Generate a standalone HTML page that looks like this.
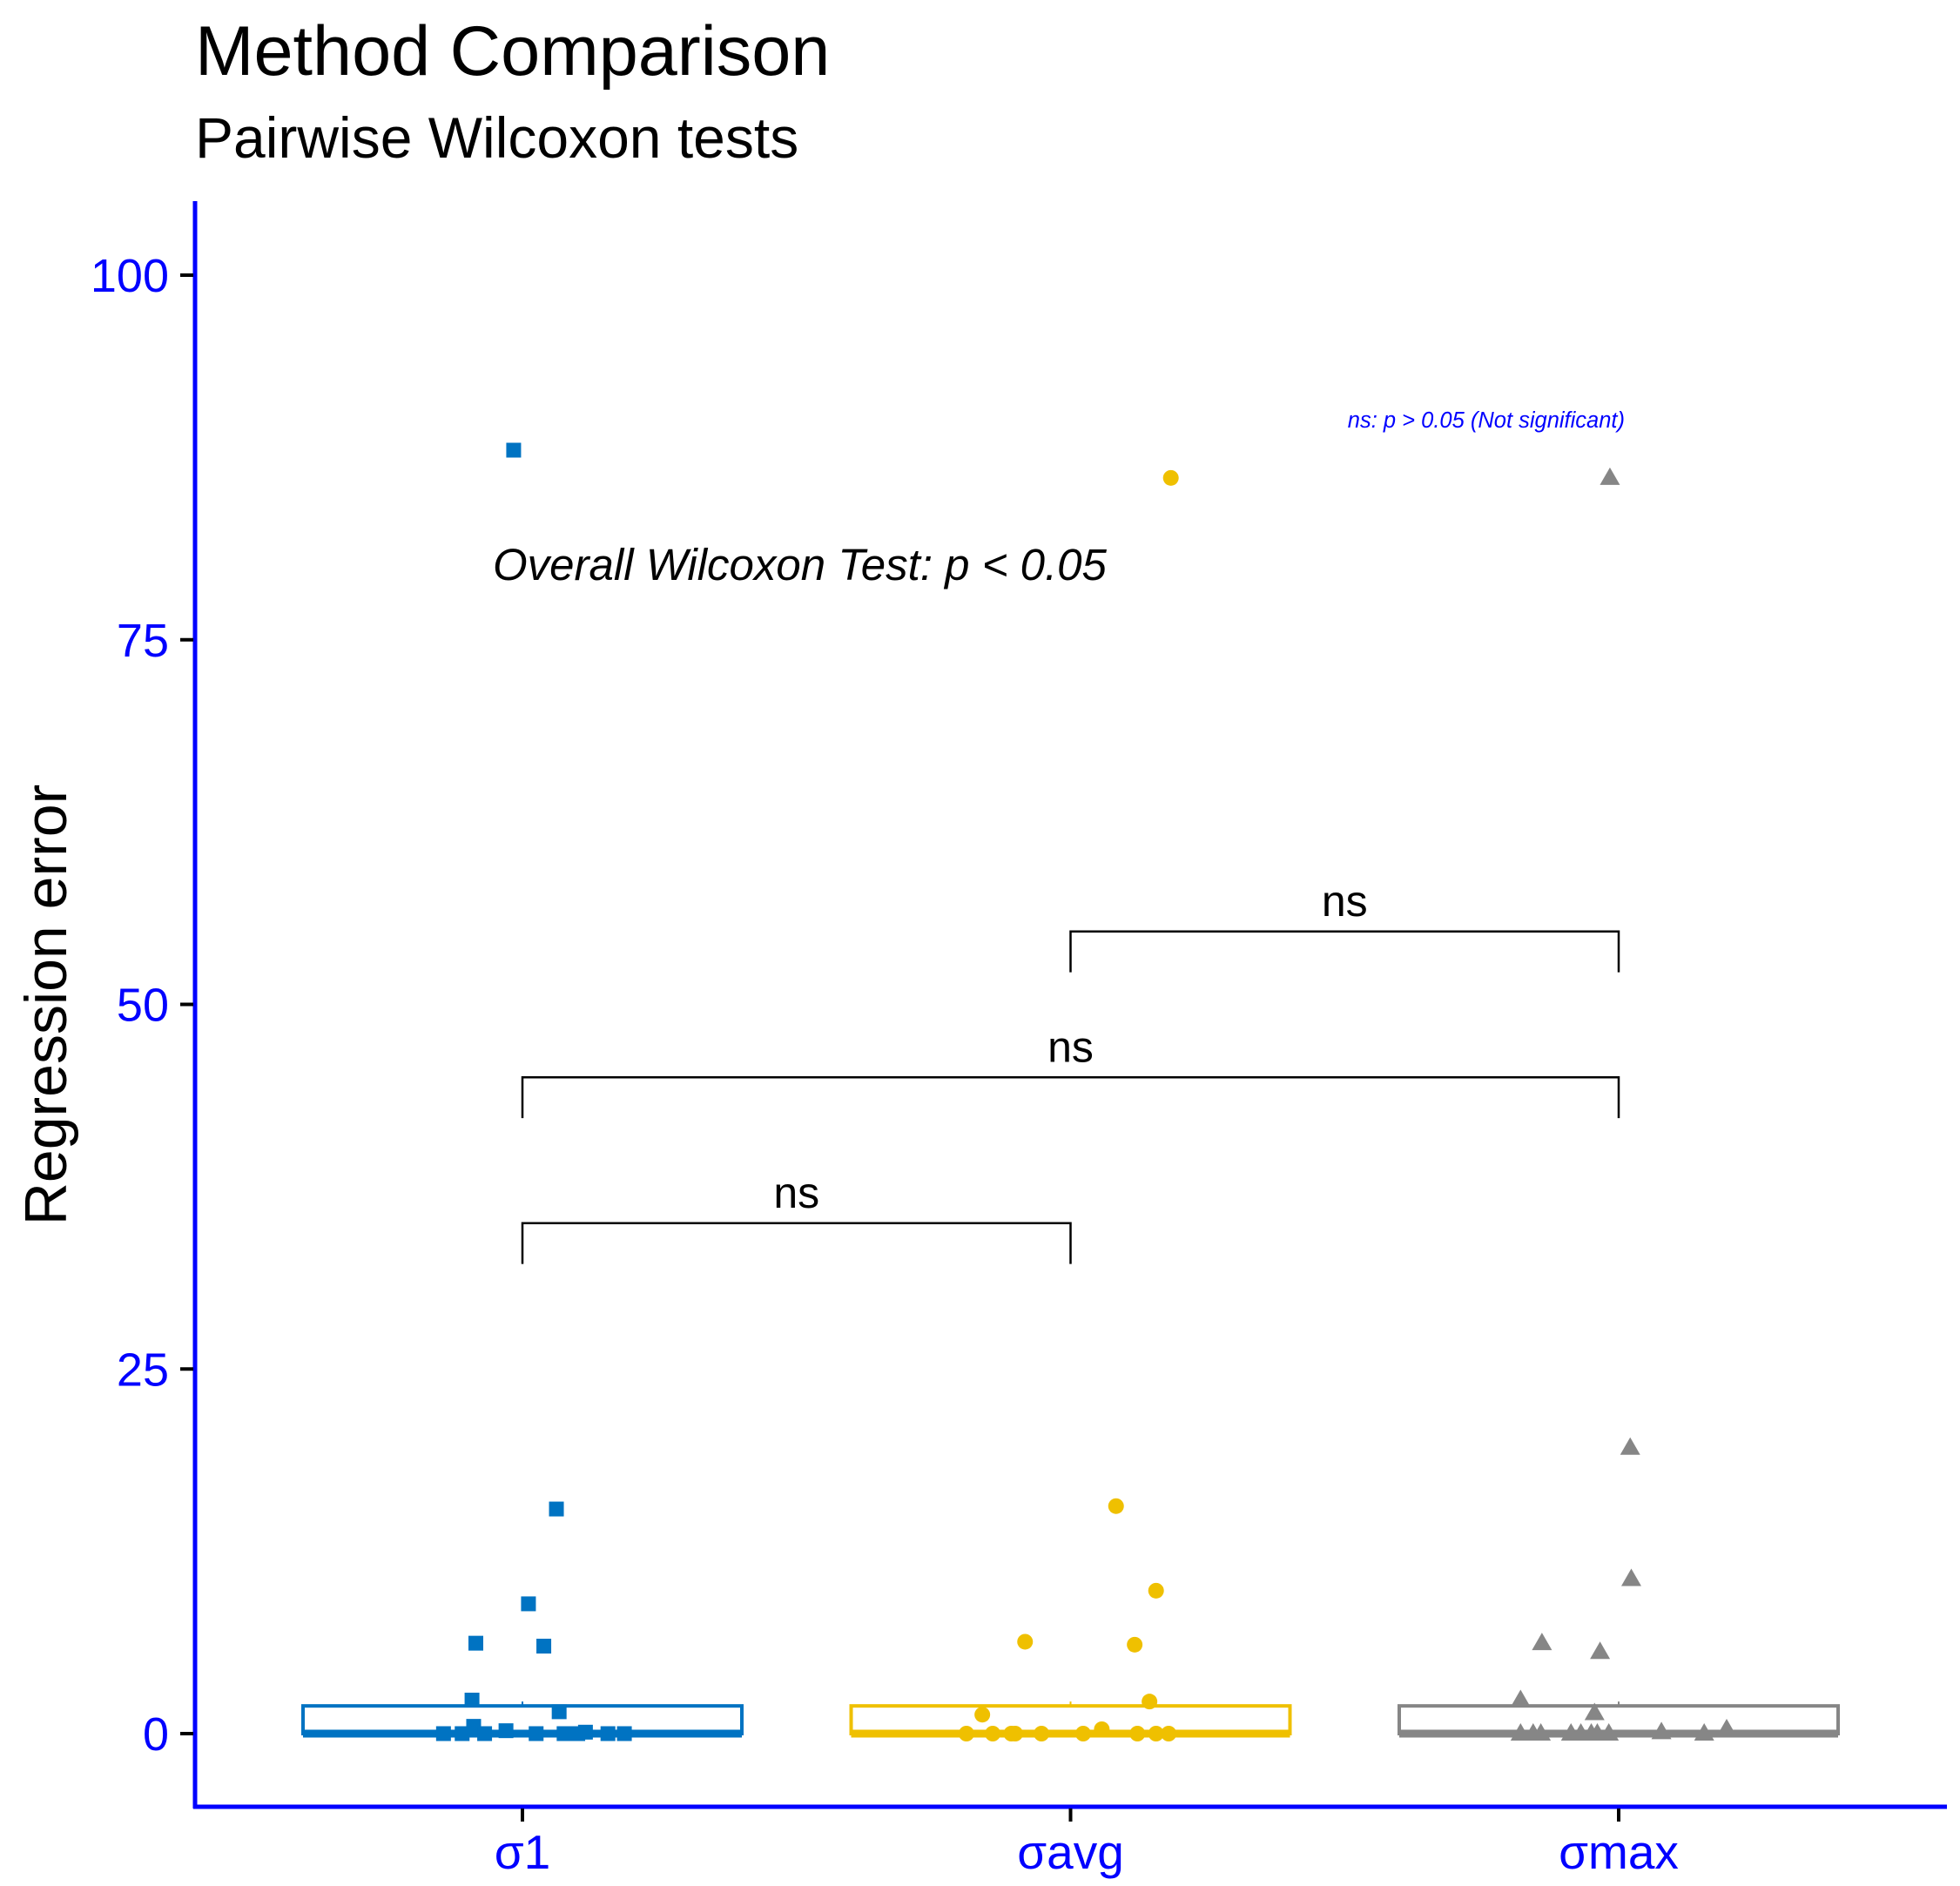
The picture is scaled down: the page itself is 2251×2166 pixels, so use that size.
<!DOCTYPE html>
<html><head><meta charset="utf-8"><style>
html,body{margin:0;padding:0;background:#fff;}
svg{display:block;font-family:"Liberation Sans",sans-serif;}
</style></head><body>
<svg id="chart" width="2251" height="2166" viewBox="0 0 2251 2166" xmlns="http://www.w3.org/2000/svg">
<text x="224" y="86" font-size="81" fill="#000">Method Comparison</text>
<text x="224" y="181" font-size="66" fill="#000">Pairwise Wilcoxon tests</text>
<text transform="translate(76,1154) rotate(-90)" text-anchor="middle" font-size="68" fill="#000">Regression error</text>
<g id="plot"></g>
</svg>
<script>
const categories = ["σ1","σavg","σmax"];
const yTicks = [0,25,50,75,100];
const s1Values = [88.0,15.4,8.9,6.2,6.0,2.3,1.5,0,0,0.5,0,0.2,0,0,0,0.1,0,0];
const s1Jitter = [-0.016,0.062,0.011,-0.085,0.039,-0.092,0.067,-0.144,-0.110,-0.089,-0.069,-0.030,0.025,0.076,0.101,0.115,0.156,0.186];
const avgValues = [86.1,15.6,9.8,6.3,6.1,2.2,1.3,0,0,0,0,0,0,0.3,0,0,0];
const avgJitter = [0.183,0.083,0.156,-0.083,0.117,0.144,-0.161,-0.190,-0.142,-0.108,-0.101,-0.053,0.023,0.057,0.122,0.156,0.179];
const maxValues = [86.1,19.6,10.6,6.2,5.6,2.3,1.4,0,0,0,0,0,0,0,0,0.1,0,0.3];
const maxJitter = [-0.016,0.021,0.023,-0.140,-0.034,-0.179,-0.044,-0.179,-0.156,-0.142,-0.087,-0.069,-0.050,-0.039,-0.018,0.078,0.156,0.197];
const boxQ1 = [0,0,0];
const boxMedian = [0,0,0];
const boxQ3 = [1.9,1.9,1.9];
const boxWhiskerHi = [2.2,2.2,2.2];
const compPairs = [[1,2],[0,2],[0,1]];
const compY = [55,45,35];
const compLabels = ["ns","ns","ns"];

const NS = "http://www.w3.org/2000/svg";
const colors = ["#0073C2","#EFC000","#868686"];
const y = v => 1991 - v * 16.75;
const x = i => 600 + i * 629.5;
const plot = document.getElementById('plot');
function mk(tag, attrs, parent){ const e=document.createElementNS(NS,tag); for(const k in attrs) e.setAttribute(k,attrs[k]); (parent||plot).appendChild(e); return e; }

let ax = mk('line',{x1:224,y1:231,x2:224,y2:2077,stroke:'#0000FF','stroke-width':5});


let bx = mk('line',{x1:222,y1:2075,x2:2236,y2:2075,stroke:'#0000FF','stroke-width':5});


yTicks.forEach(t=>{
  const tk = mk('line',{x1:207,y1:y(t),x2:222,y2:y(t),stroke:'#000','stroke-width':4});
  
  
  const lb = mk('text',{x:194,y:y(t)+19,'text-anchor':'end','font-size':54,fill:'#0000FF'});
  lb.textContent = t;
  
  
});
categories.forEach((c,i)=>{
  const tk = mk('line',{x1:x(i),y1:2077,x2:x(i),y2:2092,stroke:'#000','stroke-width':4});
  
  
  const lb = mk('text',{x:x(i),y:2146,'text-anchor':'middle','font-size':55,fill:'#0000FF'});
  lb.textContent = c;
  
  
});

const hw = 252;
categories.forEach((c,i)=>{
  const g = mk('g',{});
  
  
  mk('line',{x1:x(i),y1:y(boxQ3[i]),x2:x(i),y2:y(boxWhiskerHi[i]),stroke:colors[i],'stroke-width':2},g);
  mk('rect',{x:x(i)-hw,y:y(boxQ3[i]),width:hw*2,height:y(boxQ1[i])-y(boxQ3[i]),fill:'#fff',stroke:colors[i],'stroke-width':4},g);
  mk('line',{x1:x(i)-hw,y1:y(boxMedian[i]),x2:x(i)+hw,y2:y(boxMedian[i]),stroke:colors[i],'stroke-width':9},g);
});

const spacing = 629.5;
function square(cx,cy,col){ return mk('rect',{x:cx-8.5,y:cy-8.5,width:17,height:17,fill:col}); }
function circle(cx,cy,col){ return mk('circle',{cx:cx,cy:cy,r:9,fill:col}); }
function tri(cx,cy,col){ return mk('polygon',{points:`${cx},${cy-12} ${cx-11.5},${cy+8} ${cx+11.5},${cy+8}`,fill:col}); }
s1Values.forEach((v,k)=>{ const p=square(x(0)+s1Jitter[k]*spacing,y(v),colors[0]);
  
   });
avgValues.forEach((v,k)=>{ const p=circle(x(1)+avgJitter[k]*spacing,y(v),colors[1]);
  
   });
maxValues.forEach((v,k)=>{ const p=tri(x(2)+maxJitter[k]*spacing,y(v),colors[2]);
  
   });

compPairs.forEach((pr,k)=>{
  const a=x(pr[0]), b=x(pr[1]), yy=y(compY[k]), yl=y(compY[k]-2.8);
  const pth = mk('path',{d:`M${a},${yl} L${a},${yy} L${b},${yy} L${b},${yl}`,fill:'none',stroke:'#000','stroke-width':2.5});
  
  
  const t = mk('text',{x:(a+b)/2,y:yy-18,'text-anchor':'middle','font-size':50,fill:'#000'});
  t.textContent = compLabels[k];
  
  
});

const ov = mk('text',{x:566,y:666,'font-size':51,'font-style':'italic',fill:'#000'});
ov.textContent = 'Overall Wilcoxon Test: p < 0.05';


const nsn = mk('text',{x:1866,y:491,'text-anchor':'end','font-size':25.5,'font-style':'italic',fill:'#0000FF'});
nsn.textContent = 'ns: p > 0.05 (Not significant)';


</script>
</body></html>
